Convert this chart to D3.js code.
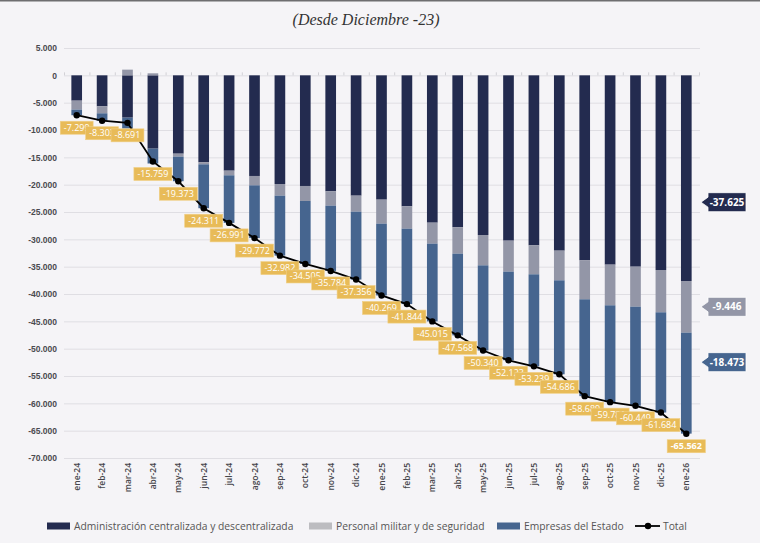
<!DOCTYPE html>
<html>
<head>
<meta charset="utf-8">
<script src="https://cdn.jsdelivr.net/npm/d3@7/dist/d3.min.js"></script>
<style>
  html, body { margin: 0; padding: 0; background: #f5f4f7; }
  svg { display: block; font-family: "Open Sans", sans-serif; }
</style>
</head>
<body>
<svg id="chart" width="760" height="543"></svg>
<script>
(function () {
  'use strict';

  // ── Data ────────────────────────────────────────────────────────────────
  const months = ['ene-24','feb-24','mar-24','abr-24','may-24','jun-24','jul-24','ago-24','sep-24',
    'oct-24','nov-24','dic-24','ene-25','feb-25','mar-25','abr-25','may-25','jun-25','jul-25',
    'ago-25','sep-25','oct-25','nov-25','dic-25','ene-26'];
  const admin = [-4630, -5670, -7740, -13410, -14330, -15910, -17440, -18410, -19880, -20240,
    -21220, -22010, -22740, -23960, -26950, -27800, -29210, -30240, -31100, -32070, -33840,
    -34630, -35000, -35610, -37625];
  const personal = [-1650, -1280, 1040, 370, -550, -370, -850, -1710, -2130, -2740, -2620,
    -2930, -4390, -4090, -3840, -4820, -5550, -5670, -5300, -5430, -7130, -7440, -7320, -7740, -9446];
  const empresas = [-1020, -1350, -1990, -2720, -4490, -8030, -8700, -9650, -10970, -11520,
    -11940, -12420, -13140, -13790, -14220, -14950, -15580, -16210, -16840, -17190, -17710,
    -17710, -18120, -18330, -18473];
  const total = [-7299, -8303, -8691, -15759, -19373, -24311, -26991, -29772, -32982, -34505,
    -35784, -37356, -40269, -41844, -45015, -47568, -50340, -52123, -53239, -54686, -58689,
    -59781, -60449, -61684, -65562];
  const yTicks = d3.range(-70000, 5001, 5000);

  const series = [
    { key: 'Administración centralizada y descentralizada', values: admin, color: '#232b4f', legend: '#232b4f' },
    { key: 'Personal militar y de seguridad', values: personal, color: '#9396a7', legend: '#bcbcc0' },
    { key: 'Empresas del Estado', values: empresas, color: '#46658f', legend: '#46658f' }
  ];

  const fmt = d3.formatLocale({ decimal: ',', thousands: '.', grouping: [3], currency: ['', ''], minus: '-' }).format(',d');

  const svg = d3.select('#chart');
  const W = 760, H = 543;
  const m = { top: 48, right: 61, bottom: 85, left: 64 };

  svg.append('rect').attr('width', W).attr('height', H).attr('fill', '#f5f4f7');
  svg.append('rect').attr('width', W).attr('height', 1.5).attr('fill', '#6e6e70');

  // title
  svg.append('text')
    .attr('x', 366).attr('y', 25)
    .attr('text-anchor', 'middle')
    .style('font-family', '"Liberation Serif", serif')
    .style('font-style', 'italic')
    .style('font-size', '16px')
    .attr('fill', '#333')
    .text('(Desde Diciembre -23)');

  const x = d3.scaleBand().domain(months).range([m.left, W - m.right])
    .paddingInner(0.58).paddingOuter(0.29);
  const y = d3.scaleLinear().domain([-70000, 5000]).range([458, 48]);

  // ── Grid + y axis ───────────────────────────────────────────────────────
  const yAxis = svg.append('g')
    .attr('transform', `translate(${m.left},0)`)
    .call(d3.axisLeft(y).tickValues(yTicks).tickSize(-(W - m.right - m.left + 1))
      .tickPadding(7).tickFormat(d => d === 0 ? '0' : fmt(d)));
  yAxis.select('.domain').remove();
  yAxis.selectAll('line').attr('stroke', '#dfdee3').attr('stroke-width', 1);
  yAxis.selectAll('text').attr('fill', '#4a4a4f').style('font-size', '8.5px').style('font-weight', 600);

  // small ticks on the zero line at band boundaries
  svg.append('g').selectAll('line').data(d3.range(months.length + 1)).join('line')
    .attr('x1', i => m.left + x.step() * i + 0.5)
    .attr('x2', i => m.left + x.step() * i + 0.5)
    .attr('y1', y(0) - 3).attr('y2', y(0))
    .attr('stroke', '#d2d1d6');

  // ── Stacked bars ────────────────────────────────────────────────────────
  const rects = [];
  months.forEach((mo, i) => {
    let neg = 0, pos = 0;
    series.forEach(s => {
      const v = s.values[i];
      let y0, y1;
      if (v >= 0) { y0 = pos; y1 = pos + v; pos = y1; }
      else { y0 = neg; y1 = neg + v; neg = y1; }
      rects.push({ mo, y0, y1, color: s.color });
    });
  });
  svg.append('g').selectAll('rect').data(rects).join('rect')
    .attr('x', d => x(d.mo))
    .attr('width', x.bandwidth())
    .attr('y', d => y(Math.max(d.y0, d.y1)))
    .attr('height', d => Math.abs(y(d.y0) - y(d.y1)))
    .attr('fill', d => d.color);

  // ── Total line ──────────────────────────────────────────────────────────
  const cx = mo => x(mo) + x.bandwidth() / 2;
  const pts = months.map((mo, i) => ({ mo, v: total[i], i }));
  svg.append('path').datum(pts)
    .attr('fill', 'none').attr('stroke', '#000').attr('stroke-width', 1.8)
    .attr('d', d3.line().x(d => cx(d.mo)).y(d => y(d.v)));
  svg.append('g').selectAll('circle').data(pts).join('circle')
    .attr('cx', d => cx(d.mo)).attr('cy', d => y(d.v)).attr('r', 3.2).attr('fill', '#000');

  // ── Total labels (drawn in order, each overlapping the previous) ────────
  const lab = svg.append('g');
  pts.forEach(d => {
    const last = d.i === pts.length - 1;
    const g = lab.append('g');
    const t = g.append('text')
      .attr('x', cx(d.mo)).attr('y', y(d.v) + 15.5)
      .attr('text-anchor', 'middle')
      .style('font-size', '9px')
      .style('font-weight', last ? 700 : 500)
      .attr('fill', '#fff')
      .text(fmt(d.v));
    const w = t.node().getComputedTextLength() + 7;
    g.insert('rect', 'text')
      .attr('x', cx(d.mo) - w / 2).attr('y', y(d.v) + 6)
      .attr('width', w).attr('height', 13)
      .attr('fill', '#e8bb58').attr('stroke', '#f0cf85').attr('stroke-width', 0.6);
  });

  // ── Segment callouts for the last month ─────────────────────────────────
  const li = months.length - 1;
  const callNudge = [24, 0, -21];
  let acc = 0;
  series.forEach((s, k) => {
    const v = s.values[li];
    const mid = acc + v / 2; acc += v;
    const cy = y(mid) + callNudge[k];
    const bx = W - m.right + 9, bw = 38, bh = 19;
    const g = svg.append('g');
    g.append('path')
      .attr('d', `M${bx - 7},${cy} L${bx},${cy - 5} L${bx},${cy - bh / 2} L${bx + bw},${cy - bh / 2} L${bx + bw},${cy + bh / 2} L${bx},${cy + bh / 2} L${bx},${cy + 5} Z`)
      .attr('fill', s.color).attr('stroke', '#fff').attr('stroke-width', 0.8);
    g.append('text')
      .attr('x', bx + bw / 2).attr('y', cy + 3.5)
      .attr('text-anchor', 'middle')
      .style('font-size', '10px').style('font-weight', 700)
      .attr('fill', '#fff')
      .text(fmt(v));
  });

  // ── X labels ────────────────────────────────────────────────────────────
  svg.append('g').selectAll('text').data(months).join('text')
    .attr('transform', d => `translate(${cx(d) + 3},463) rotate(-90)`)
    .attr('text-anchor', 'end')
    .style('font-size', '8.5px').style('font-weight', 600)
    .attr('fill', '#45454a')
    .text(d => d);

  // ── Legend ──────────────────────────────────────────────────────────────
  const leg = svg.append('g').attr('transform', 'translate(0,526)');
  const legX = [47, 309, 497];
  series.forEach((s, k) => {
    leg.append('rect').attr('x', legX[k]).attr('y', -3.5).attr('width', 23).attr('height', 7).attr('fill', s.legend);
    leg.append('text').attr('x', legX[k] + 27).attr('y', 3.5)
      .style('font-size', '10.3px').attr('fill', '#555').text(s.key);
  });
  leg.append('line').attr('x1', 635).attr('x2', 660).attr('stroke', '#000').attr('stroke-width', 1.8);
  leg.append('circle').attr('cx', 648).attr('r', 3.2).attr('fill', '#000');
  leg.append('text').attr('x', 663).attr('y', 3.5).style('font-size', '10.3px').attr('fill', '#555').text('Total');
})();
</script>
</body>
</html>
